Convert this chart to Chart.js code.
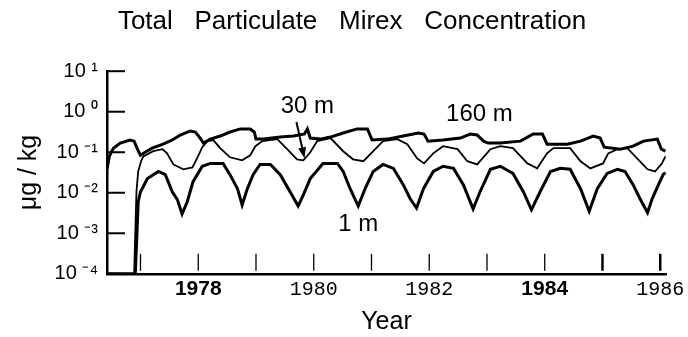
<!DOCTYPE html>
<html>
<head>
<meta charset="utf-8">
<script src="https://cdn.jsdelivr.net/npm/chart.js@4.4.1/dist/chart.umd.min.js"></script>
<style>
  html, body { margin: 0; padding: 0; background: #fff; }
  #wrap { width: 688px; height: 337px; }
</style>
</head>
<body>
<div id="wrap"><canvas id="mirex"></canvas></div>
<script>
    "use strict";

    // Data (year, ug/kg)
    var years160 = [1976.42, 1976.46, 1976.53, 1976.65, 1976.82, 1976.89, 1976.94, 1977.00, 1977.08, 1977.20,
        1977.39, 1977.55, 1977.69, 1977.86, 1977.95, 1978.02, 1978.09, 1978.21, 1978.38, 1978.55,
        1978.73, 1978.90, 1978.97, 1979.00, 1979.13, 1979.42, 1979.65, 1979.84, 1979.89, 1979.94,
        1980.11, 1980.29, 1980.51, 1980.75, 1980.93, 1981.01, 1981.27, 1981.55, 1981.81, 1981.91,
        1981.98, 1982.24, 1982.54, 1982.71, 1982.83, 1982.94, 1983.02, 1983.23, 1983.58, 1983.80,
        1983.96, 1984.04, 1984.39, 1984.62, 1984.84, 1984.96, 1985.03, 1985.31, 1985.53, 1985.71,
        1985.95, 1986.02, 1986.09];
    var conc160 = [0.038, 0.079, 0.126, 0.168, 0.20, 0.188, 0.126, 0.084, 0.10, 0.126,
        0.158, 0.20, 0.266, 0.335, 0.316, 0.237, 0.168, 0.211, 0.251, 0.316,
        0.376, 0.376, 0.316, 0.211, 0.211, 0.237, 0.251, 0.282, 0.376, 0.224,
        0.211, 0.237, 0.299, 0.376, 0.376, 0.20, 0.211, 0.251, 0.299, 0.282,
        0.188, 0.20, 0.224, 0.282, 0.266, 0.188, 0.168, 0.168, 0.188, 0.282,
        0.282, 0.158, 0.158, 0.188, 0.251, 0.224, 0.133, 0.119, 0.141, 0.188,
        0.211, 0.119, 0.106];

    var years30 = [1976.42, 1976.89, 1976.91, 1976.93, 1976.96, 1977.01, 1977.05, 1977.22, 1977.38, 1977.46,
        1977.57, 1977.74, 1977.90, 1977.98, 1978.07, 1978.16, 1978.26, 1978.38, 1978.55, 1978.76,
        1978.90, 1978.99, 1979.11, 1979.37, 1979.54, 1979.71, 1979.82, 1979.94, 1980.06, 1980.29,
        1980.51, 1980.68, 1980.86, 1981.03, 1981.20, 1981.45, 1981.62, 1981.79, 1981.91, 1982.07,
        1982.24, 1982.49, 1982.66, 1982.83, 1983.06, 1983.23, 1983.45, 1983.70, 1983.87, 1984.04,
        1984.15, 1984.44, 1984.62, 1984.79, 1985.01, 1985.10, 1985.26, 1985.43, 1985.60, 1985.78,
        1985.91, 1986.03, 1986.09];
    var conc30 = [0.0001, 0.0001, 0.00106, 0.0106, 0.0335, 0.060, 0.079, 0.106, 0.119, 0.094,
        0.050, 0.038, 0.042, 0.071, 0.133, 0.188, 0.20, 0.126, 0.075, 0.063,
        0.084, 0.141, 0.188, 0.211, 0.119, 0.067, 0.063, 0.10, 0.188, 0.224,
        0.106, 0.067, 0.060, 0.106, 0.188, 0.211, 0.158, 0.071, 0.053, 0.094,
        0.141, 0.119, 0.060, 0.050, 0.119, 0.141, 0.126, 0.053, 0.040, 0.094,
        0.126, 0.126, 0.060, 0.040, 0.053, 0.094, 0.119, 0.126, 0.071, 0.038,
        0.0335, 0.053, 0.079];

    var years1 = [1976.42, 1976.91, 1976.94, 1976.96, 1977.00, 1977.12, 1977.31, 1977.43, 1977.55, 1977.64,
        1977.72, 1977.81, 1977.91, 1978.07, 1978.21, 1978.43, 1978.55, 1978.68, 1978.76, 1978.85,
        1978.95, 1979.07, 1979.25, 1979.42, 1979.59, 1979.73, 1979.82, 1979.94, 1980.16, 1980.41,
        1980.51, 1980.63, 1980.77, 1980.89, 1981.03, 1981.20, 1981.38, 1981.55, 1981.67, 1981.78,
        1981.90, 1982.07, 1982.24, 1982.42, 1982.59, 1982.76, 1982.88, 1983.06, 1983.23, 1983.45,
        1983.63, 1983.77, 1983.92, 1984.10, 1984.27, 1984.44, 1984.62, 1984.77, 1984.91, 1985.08,
        1985.26, 1985.39, 1985.53, 1985.65, 1985.78, 1985.86, 1985.97, 1986.05, 1986.09];
    var conc1 = [0.0001, 0.0001, 0.0011, 0.006, 0.0106, 0.0224, 0.0335, 0.028, 0.0106, 0.0067,
        0.0030, 0.006, 0.0188, 0.045, 0.053, 0.053, 0.028, 0.0126, 0.005, 0.0126,
        0.028, 0.050, 0.050, 0.028, 0.0106, 0.0047, 0.0089, 0.0224, 0.053, 0.053,
        0.0335, 0.0126, 0.0047, 0.0126, 0.0335, 0.050, 0.040, 0.0158, 0.0071, 0.0042,
        0.0126, 0.0335, 0.045, 0.040, 0.0158, 0.004, 0.0106, 0.038, 0.045, 0.030,
        0.0106, 0.0038, 0.0106, 0.0335, 0.040, 0.038, 0.0126, 0.0035, 0.0126, 0.030,
        0.038, 0.0335, 0.0158, 0.0071, 0.0032, 0.0071, 0.0158, 0.028, 0.0316];

    var tickYears = [1977, 1978, 1979, 1980, 1981, 1982, 1983, 1984, 1985, 1986];
    var yTickVals = [0.0001, 0.001, 0.01, 0.1, 1, 10];
    var yTickLabels = ['10 \u207B\u2074', '10 \u207B\u00B3', '10 \u207B\u00B2', '10 \u207B\u00B9', '10 \u2070', '10 \u00B9'];

    function toPoints(xs, ys) {
        return xs.map(function (x, i) { return {x: x, y: ys[i]}; });
    }

    var sans = "'Liberation Sans', Arial, Helvetica, sans-serif";

    // inward tick marks, depth labels and the 30 m arrow
    var decorations = {
        id: 'decorations',
        afterDraw: function (chart) {
            var ctx = chart.ctx, area = chart.chartArea;
            var xs = chart.scales.x, ys = chart.scales.y;
            ctx.save();
            ctx.strokeStyle = '#000';
            ctx.lineCap = 'butt';

            ctx.lineWidth = 2;
            yTickVals.forEach(function (v) {
                var py = ys.getPixelForValue(v);
                ctx.beginPath();
                ctx.moveTo(area.left, py);
                ctx.lineTo(area.left + 18, py);
                ctx.stroke();
            });

            tickYears.forEach(function (yr) {
                var px = xs.getPixelForValue(yr);
                ctx.lineWidth = yr >= 1985 ? 2.5 : 1.3;
                ctx.beginPath();
                ctx.moveTo(px, area.bottom - 3);
                ctx.lineTo(px, area.bottom - 20);
                ctx.stroke();
            });

            ctx.fillStyle = '#000';
            ctx.font = '24px ' + sans;
            ctx.textAlign = 'center';
            ctx.textBaseline = 'middle';
            ctx.fillText('30 m', xs.getPixelForValue(1979.89), ys.getPixelForValue(1.33));
            ctx.fillText('160 m', xs.getPixelForValue(1982.87), ys.getPixelForValue(0.84));
            ctx.fillText('1 m', xs.getPixelForValue(1980.77), ys.getPixelForValue(0.00168));

            // arrow to the 30 m curve
            var x0 = xs.getPixelForValue(1979.70), y0 = ys.getPixelForValue(0.56);
            var x1 = xs.getPixelForValue(1979.84), y1 = ys.getPixelForValue(0.071);
            var ang = Math.atan2(y1 - y0, x1 - x0);
            ctx.lineWidth = 2;
            ctx.beginPath();
            ctx.moveTo(x0, y0);
            ctx.lineTo(x1 - 8 * Math.cos(ang), y1 - 8 * Math.sin(ang));
            ctx.stroke();
            ctx.beginPath();
            ctx.moveTo(x1, y1);
            ctx.lineTo(x1 - 11 * Math.cos(ang) + 4 * Math.sin(ang), y1 - 11 * Math.sin(ang) - 4 * Math.cos(ang));
            ctx.lineTo(x1 - 11 * Math.cos(ang) - 4 * Math.sin(ang), y1 - 11 * Math.sin(ang) + 4 * Math.cos(ang));
            ctx.closePath();
            ctx.fill();
            ctx.restore();
        }
    };

    var ctx = document.getElementById('mirex').getContext('2d');
    var mirexChart = new Chart(ctx, {
        type: 'line',
        data: {
            datasets: [{
                    label: '160 m',
                    data: toPoints(years160, conc160),
                    borderColor: '#000',
                    borderWidth: 3,
                    pointRadius: 0,
                    tension: 0
                },
                {
                    label: '30 m',
                    data: toPoints(years30, conc30),
                    borderColor: '#000',
                    borderWidth: 1.8,
                    pointRadius: 0,
                    tension: 0
                },
                {
                    label: '1 m',
                    data: toPoints(years1, conc1),
                    borderColor: '#000',
                    borderWidth: 3,
                    pointRadius: 0,
                    tension: 0
                }
            ]
        },
        options: {
            responsive: true,
            maintainAspectRatio: false,
            animation: false,
            layout: {
                padding: {left: 38, right: 22, top: 0, bottom: 0}
            },
            plugins: {
                legend: {display: false},
                tooltip: {enabled: false},
                title: {
                    display: true,
                    text: 'Total   Particulate   Mirex   Concentration',
                    color: '#000',
                    font: {family: sans, size: 26, weight: 'normal', lineHeight: 1.2},
                    padding: {top: 6, bottom: 34}
                }
            },
            scales: {
                x: {
                    type: 'linear',
                    min: 1976.42,
                    max: 1986.1,
                    grid: {display: false, drawTicks: false},
                    border: {display: true, color: '#000', width: 2.5},
                    afterBuildTicks: function (scale) {
                        scale.ticks = tickYears.map(function (v) { return {value: v}; });
                    },
                    ticks: {
                        autoSkip: false,
                        maxRotation: 0,
                        padding: 3,
                        color: '#000',
                        font: function (c) {
                            var v = c.tick ? c.tick.value : 0;
                            if (v === 1978 || v === 1984) {
                                return {family: sans, size: 21, weight: 'bold', lineHeight: 1.2};
                            }
                            return {family: "'Liberation Mono', 'DejaVu Sans Mono', monospace", size: 20, lineHeight: 1.26};
                        },
                        callback: function (v) {
                            return v % 2 === 0 ? String(v) : '';
                        }
                    },
                    title: {
                        display: true,
                        text: 'Year',
                        color: '#000',
                        font: {family: sans, size: 25, lineHeight: 1.2},
                        padding: {top: 2, bottom: 0}
                    }
                },
                y: {
                    type: 'logarithmic',
                    min: 0.0001,
                    max: 10,
                    grid: {display: false, drawTicks: false},
                    border: {display: true, color: '#000', width: 2.5},
                    afterBuildTicks: function (scale) {
                        scale.ticks = yTickVals.map(function (v) { return {value: v}; });
                    },
                    afterFit: function (scale) {
                        scale.width = 69;
                    },
                    ticks: {
                        padding: 9,
                        color: '#000',
                        font: {family: sans, size: 20},
                        callback: function (v, i) {
                            return yTickLabels[i];
                        }
                    },
                    title: {
                        display: true,
                        text: '\u03BCg / kg',
                        color: '#000',
                        font: {family: sans, size: 25, lineHeight: 1.2},
                        padding: {top: -24, bottom: 0}
                    }
                }
            }
        },
        plugins: [decorations]
    });
</script>
</body>
</html>
